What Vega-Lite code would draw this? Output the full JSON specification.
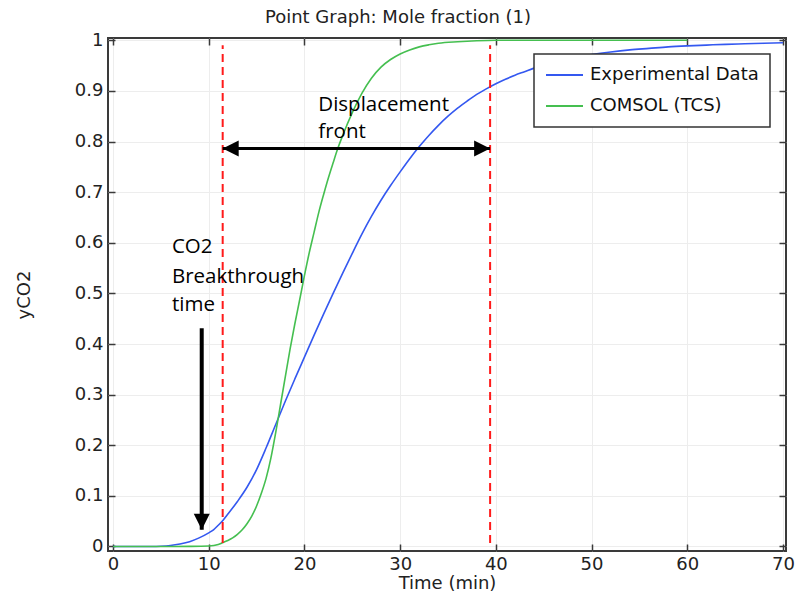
{
  "$schema": "https://vega.github.io/schema/vega-lite/v6.json",
  "width": 678,
  "height": 513,
  "autosize": {"type": "none"},
  "padding": {"left": 108, "top": 38, "right": 9, "bottom": 44},
  "title": {"text": "Point Graph: Mole fraction (1)", "font": "DejaVu Sans", "fontSize": 18, "fontWeight": "normal", "color": "#222222", "anchor": "middle", "frame": "group", "dx": -49, "dy": 25, "offset": 15, "baseline": "alphabetic"},
  "config": {
    "view": {"stroke": "#3a3a3a", "strokeWidth": 2},
    "axis": {"labelFont": "DejaVu Sans", "labelFontSize": 18, "labelColor": "#222222", "titleFont": "DejaVu Sans", "titleFontSize": 18, "titleFontWeight": "normal", "titleColor": "#222222", "domain": false, "tickColor": "#3a3a3a", "tickWidth": 1.5, "tickSize": -7, "labelFlush": false, "labelOverlap": false, "gridColor": "#ededed", "gridWidth": 1},
    "legend": {"orient": "none", "legendX": 426, "legendY": 16, "fillColor": "white", "strokeColor": "#333333", "strokeWidth": 1.5, "padding": 11, "symbolType": "stroke", "symbolSize": 1369, "symbolStrokeWidth": 2, "labelFont": "DejaVu Sans", "labelFontSize": 18, "labelColor": "#111111", "labelOffset": 6, "labelLimit": 400, "rowPadding": 11, "clipHeight": 20, "title": null}
  },
  "datasets": {
    "curves": [
      {"t": 0, "v": 0, "s": "Experimental Data"},
      {"t": 4, "v": 0, "s": "Experimental Data"},
      {"t": 5, "v": 0.0005, "s": "Experimental Data"},
      {"t": 6, "v": 0.002, "s": "Experimental Data"},
      {"t": 7, "v": 0.005, "s": "Experimental Data"},
      {"t": 8, "v": 0.0095, "s": "Experimental Data"},
      {"t": 9, "v": 0.017, "s": "Experimental Data"},
      {"t": 10, "v": 0.027, "s": "Experimental Data"},
      {"t": 10.5, "v": 0.033, "s": "Experimental Data"},
      {"t": 11, "v": 0.042, "s": "Experimental Data"},
      {"t": 11.5, "v": 0.052, "s": "Experimental Data"},
      {"t": 12, "v": 0.064, "s": "Experimental Data"},
      {"t": 13, "v": 0.089, "s": "Experimental Data"},
      {"t": 14, "v": 0.117, "s": "Experimental Data"},
      {"t": 15, "v": 0.152, "s": "Experimental Data"},
      {"t": 16, "v": 0.195, "s": "Experimental Data"},
      {"t": 17, "v": 0.241, "s": "Experimental Data"},
      {"t": 18, "v": 0.287, "s": "Experimental Data"},
      {"t": 19, "v": 0.331, "s": "Experimental Data"},
      {"t": 20, "v": 0.374, "s": "Experimental Data"},
      {"t": 21, "v": 0.417, "s": "Experimental Data"},
      {"t": 22, "v": 0.459, "s": "Experimental Data"},
      {"t": 23, "v": 0.5, "s": "Experimental Data"},
      {"t": 24, "v": 0.54, "s": "Experimental Data"},
      {"t": 25, "v": 0.579, "s": "Experimental Data"},
      {"t": 26, "v": 0.617, "s": "Experimental Data"},
      {"t": 27, "v": 0.652, "s": "Experimental Data"},
      {"t": 28, "v": 0.684, "s": "Experimental Data"},
      {"t": 29, "v": 0.713, "s": "Experimental Data"},
      {"t": 30, "v": 0.74, "s": "Experimental Data"},
      {"t": 31, "v": 0.766, "s": "Experimental Data"},
      {"t": 32, "v": 0.79, "s": "Experimental Data"},
      {"t": 33, "v": 0.812, "s": "Experimental Data"},
      {"t": 34, "v": 0.832, "s": "Experimental Data"},
      {"t": 35, "v": 0.85, "s": "Experimental Data"},
      {"t": 36, "v": 0.866, "s": "Experimental Data"},
      {"t": 37, "v": 0.88, "s": "Experimental Data"},
      {"t": 38, "v": 0.893, "s": "Experimental Data"},
      {"t": 39, "v": 0.904, "s": "Experimental Data"},
      {"t": 40, "v": 0.914, "s": "Experimental Data"},
      {"t": 41, "v": 0.923, "s": "Experimental Data"},
      {"t": 42, "v": 0.931, "s": "Experimental Data"},
      {"t": 43, "v": 0.938, "s": "Experimental Data"},
      {"t": 44, "v": 0.945, "s": "Experimental Data"},
      {"t": 45, "v": 0.951, "s": "Experimental Data"},
      {"t": 46, "v": 0.956, "s": "Experimental Data"},
      {"t": 47, "v": 0.961, "s": "Experimental Data"},
      {"t": 48, "v": 0.965, "s": "Experimental Data"},
      {"t": 49, "v": 0.969, "s": "Experimental Data"},
      {"t": 50, "v": 0.972, "s": "Experimental Data"},
      {"t": 52, "v": 0.977, "s": "Experimental Data"},
      {"t": 54, "v": 0.981, "s": "Experimental Data"},
      {"t": 56, "v": 0.984, "s": "Experimental Data"},
      {"t": 58, "v": 0.987, "s": "Experimental Data"},
      {"t": 60, "v": 0.989, "s": "Experimental Data"},
      {"t": 62, "v": 0.9905, "s": "Experimental Data"},
      {"t": 64, "v": 0.992, "s": "Experimental Data"},
      {"t": 66, "v": 0.993, "s": "Experimental Data"},
      {"t": 68, "v": 0.994, "s": "Experimental Data"},
      {"t": 70, "v": 0.995, "s": "Experimental Data"},
      {"t": 0, "v": 0, "s": "COMSOL (TCS)"},
      {"t": 5, "v": 0, "s": "COMSOL (TCS)"},
      {"t": 8, "v": 0.0003, "s": "COMSOL (TCS)"},
      {"t": 10, "v": 0.001, "s": "COMSOL (TCS)"},
      {"t": 11, "v": 0.004, "s": "COMSOL (TCS)"},
      {"t": 11.5, "v": 0.008, "s": "COMSOL (TCS)"},
      {"t": 12, "v": 0.012, "s": "COMSOL (TCS)"},
      {"t": 12.5, "v": 0.017, "s": "COMSOL (TCS)"},
      {"t": 13, "v": 0.024, "s": "COMSOL (TCS)"},
      {"t": 13.5, "v": 0.033, "s": "COMSOL (TCS)"},
      {"t": 14, "v": 0.045, "s": "COMSOL (TCS)"},
      {"t": 14.5, "v": 0.06, "s": "COMSOL (TCS)"},
      {"t": 15, "v": 0.08, "s": "COMSOL (TCS)"},
      {"t": 15.5, "v": 0.105, "s": "COMSOL (TCS)"},
      {"t": 16, "v": 0.135, "s": "COMSOL (TCS)"},
      {"t": 16.5, "v": 0.175, "s": "COMSOL (TCS)"},
      {"t": 17, "v": 0.225, "s": "COMSOL (TCS)"},
      {"t": 17.5, "v": 0.28, "s": "COMSOL (TCS)"},
      {"t": 18, "v": 0.335, "s": "COMSOL (TCS)"},
      {"t": 18.5, "v": 0.39, "s": "COMSOL (TCS)"},
      {"t": 19, "v": 0.44, "s": "COMSOL (TCS)"},
      {"t": 19.5, "v": 0.487, "s": "COMSOL (TCS)"},
      {"t": 20, "v": 0.535, "s": "COMSOL (TCS)"},
      {"t": 20.5, "v": 0.58, "s": "COMSOL (TCS)"},
      {"t": 21, "v": 0.62, "s": "COMSOL (TCS)"},
      {"t": 21.5, "v": 0.66, "s": "COMSOL (TCS)"},
      {"t": 22, "v": 0.695, "s": "COMSOL (TCS)"},
      {"t": 22.5, "v": 0.728, "s": "COMSOL (TCS)"},
      {"t": 23, "v": 0.758, "s": "COMSOL (TCS)"},
      {"t": 23.5, "v": 0.787, "s": "COMSOL (TCS)"},
      {"t": 24, "v": 0.812, "s": "COMSOL (TCS)"},
      {"t": 25, "v": 0.857, "s": "COMSOL (TCS)"},
      {"t": 26, "v": 0.895, "s": "COMSOL (TCS)"},
      {"t": 27, "v": 0.925, "s": "COMSOL (TCS)"},
      {"t": 28, "v": 0.947, "s": "COMSOL (TCS)"},
      {"t": 29, "v": 0.962, "s": "COMSOL (TCS)"},
      {"t": 30, "v": 0.973, "s": "COMSOL (TCS)"},
      {"t": 31, "v": 0.981, "s": "COMSOL (TCS)"},
      {"t": 32, "v": 0.987, "s": "COMSOL (TCS)"},
      {"t": 33, "v": 0.991, "s": "COMSOL (TCS)"},
      {"t": 34, "v": 0.994, "s": "COMSOL (TCS)"},
      {"t": 36, "v": 0.997, "s": "COMSOL (TCS)"},
      {"t": 38, "v": 0.999, "s": "COMSOL (TCS)"},
      {"t": 40, "v": 1.0, "s": "COMSOL (TCS)"},
      {"t": 45, "v": 1.0, "s": "COMSOL (TCS)"},
      {"t": 50, "v": 1.0, "s": "COMSOL (TCS)"},
      {"t": 55, "v": 1.0, "s": "COMSOL (TCS)"},
      {"t": 60, "v": 1.0, "s": "COMSOL (TCS)"}
    ],
    "vlines": [
      {"t": 11.46, "v": 0.007, "v2": 0.99},
      {"t": 39.4, "v": 0.007, "v2": 0.99}
    ],
    "hshaft": [{"t": 11.46, "t2": 39.4, "v": 0.786}],
    "vshaft": [{"t": 9.27, "v": 0.431, "v2": 0.033}],
    "heads": [
      {"t": 11.46, "v": 0.786, "dir": "left"},
      {"t": 39.4, "v": 0.786, "dir": "right"},
      {"t": 9.27, "v": 0.033, "dir": "down"}
    ],
    "notes": [
      {"t": 6.16, "v": 0.592, "label": "CO2"},
      {"t": 6.16, "v": 0.533, "label": "Breakthrough"},
      {"t": 6.16, "v": 0.477, "label": "time"},
      {"t": 21.45, "v": 0.872, "label": "Displacement"},
      {"t": 21.45, "v": 0.819, "label": "front"}
    ]
  },
  "layer": [
    {
      "data": {"name": "curves"},
      "mark": {"type": "line", "strokeWidth": 1.6, "clip": true, "interpolate": "monotone"},
      "encoding": {
        "x": {"field": "t", "type": "quantitative", "scale": {"domain": [-0.522, 70.313], "nice": false, "zero": false},
              "axis": {"orient": "bottom", "values": [0, 10, 20, 30, 40, 50, 60, 70], "grid": true, "labelPadding": 11, "title": "Time (min)", "titleBaseline": "alphabetic", "titleY": 37}},
        "y": {"field": "v", "type": "quantitative", "scale": {"domain": [-0.0089, 1.0045], "nice": false, "zero": false},
              "axis": {"orient": "left", "values": [0, 0.1, 0.2, 0.3, 0.4, 0.5, 0.6, 0.7, 0.8, 0.9, 1], "format": ".1~f", "grid": true, "labelPadding": 12, "title": "yCO2", "titleBaseline": "alphabetic", "titleX": -79}},
        "color": {"field": "s", "type": "nominal", "scale": {"domain": ["Experimental Data", "COMSOL (TCS)"], "range": ["#3458f0", "#45bf50"]}},
        "detail": {"field": "s"}
      }
    },
    {
      "data": {"name": "vlines"},
      "mark": {"type": "rule", "color": "#ff1a1a", "strokeWidth": 2, "strokeDash": [8, 5]},
      "encoding": {
        "x": {"field": "t", "type": "quantitative", "axis": {"orient": "top", "values": [0, 10, 20, 30, 40, 50, 60, 70], "labels": false, "grid": false, "title": null}},
        "y": {"field": "v", "type": "quantitative", "axis": {"orient": "right", "values": [0, 0.1, 0.2, 0.3, 0.4, 0.5, 0.6, 0.7, 0.8, 0.9, 1], "labels": false, "grid": false, "title": null}},
        "y2": {"field": "v2"}
      }
    },
    {
      "data": {"name": "hshaft"},
      "mark": {"type": "rule", "color": "black", "strokeWidth": 3},
      "encoding": {
        "x": {"field": "t", "type": "quantitative", "axis": null},
        "x2": {"field": "t2"},
        "y": {"field": "v", "type": "quantitative", "axis": null}
      }
    },
    {
      "data": {"name": "vshaft"},
      "mark": {"type": "rule", "color": "black", "strokeWidth": 4},
      "encoding": {
        "x": {"field": "t", "type": "quantitative", "axis": null},
        "y": {"field": "v", "type": "quantitative", "axis": null},
        "y2": {"field": "v2"}
      }
    },
    {
      "data": {"name": "heads"},
      "mark": {"type": "point", "filled": true, "color": "black", "opacity": 1, "size": 256, "strokeWidth": 0},
      "encoding": {
        "x": {"field": "t", "type": "quantitative", "axis": null},
        "y": {"field": "v", "type": "quantitative", "axis": null},
        "shape": {"field": "dir", "type": "nominal", "legend": null, "scale": {"domain": ["left", "right", "down"], "range": ["M0,0L2,-1L2,1Z", "M0,0L-2,-1L-2,1Z", "M0,0L-1,-2L1,-2Z"]}}
      }
    },
    {
      "data": {"name": "notes"},
      "mark": {"type": "text", "align": "left", "baseline": "middle", "font": "Open Sans", "fontSize": 20.5, "color": "black"},
      "encoding": {
        "x": {"field": "t", "type": "quantitative", "axis": null},
        "y": {"field": "v", "type": "quantitative", "axis": null},
        "text": {"field": "label"}
      }
    }
  ],
  "resolve": {"axis": {"x": "independent", "y": "independent"}}
}
